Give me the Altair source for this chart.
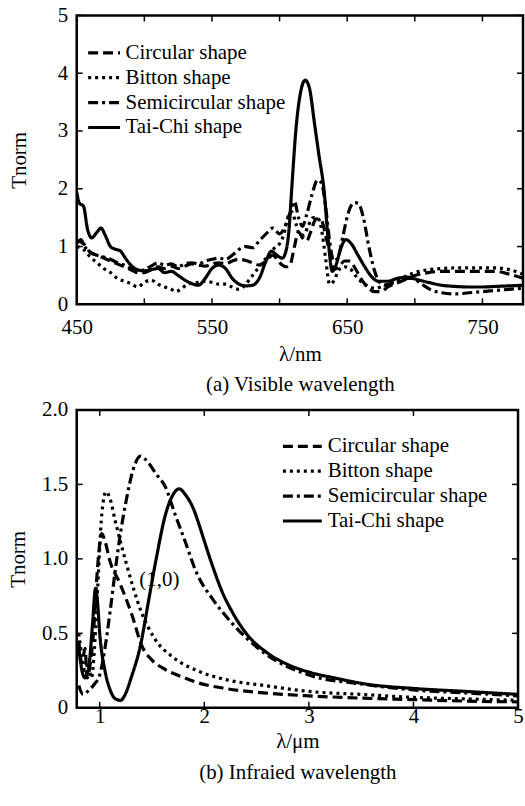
import altair as alt
import pandas as pd

FONT = "Liberation Serif"
FS = 21
SHAPES = ["Circular shape", "Bitton shape", "Semicircular shape", "Tai-Chi shape"]
DASHES = [[10, 5], [3, 4], [10, 4, 3, 4], [1, 0]]

# ---------------- (a) visible wavelength ----------------
vis_circ_x = [450, 455, 460, 465, 470, 475, 480, 485, 490, 495, 500, 505, 510, 515, 520, 525, 530, 535, 540, 545,
              550, 555, 560, 565, 570, 575, 580, 585, 590, 595, 600, 605, 608, 611, 614, 617, 620, 623, 627, 631,
              634, 637, 640, 644, 648, 652, 656, 660, 665, 670, 675, 680, 690, 700, 710, 720, 730, 740, 750, 760,
              770, 780]
vis_circ_y = [1.1, 1.05, 0.9, 0.85, 0.8, 0.75, 0.7, 0.65, 0.6, 0.55, 0.55, 0.6, 0.65, 0.62, 0.66, 0.62, 0.66, 0.7,
              0.68, 0.66, 0.7, 0.72, 0.7, 0.75, 0.78, 0.76, 0.72, 0.68, 0.75, 0.85, 0.72, 0.65, 0.7, 1.0, 1.25, 1.15,
              1.1, 1.25, 1.48, 1.45, 1.2, 0.9, 0.6, 0.65, 0.75, 0.75, 0.62, 0.45, 0.3, 0.22, 0.22, 0.3, 0.4, 0.5,
              0.55, 0.57, 0.57, 0.57, 0.57, 0.57, 0.52, 0.45]

vis_bit_x = [450, 455, 460, 465, 470, 475, 480, 485, 490, 495, 500, 505, 510, 515, 520, 523, 527, 532, 540, 545,
             550, 555, 560, 565, 570, 575, 580, 585, 590, 595, 600, 603, 606, 609, 612, 615, 618, 621, 625, 628,
             631, 634, 637, 640, 644, 648, 652, 656, 660, 665, 670, 675, 680, 690, 700, 710, 720, 730, 740, 750,
             760, 770, 780]
vis_bit_y = [1.0, 0.95, 0.82, 0.72, 0.62, 0.55, 0.45, 0.4, 0.36, 0.3, 0.38, 0.42, 0.35, 0.3, 0.26, 0.22, 0.26,
             0.35, 0.38, 0.4, 0.38, 0.35, 0.35, 0.3, 0.26, 0.35, 0.5, 0.65, 0.8, 0.95, 1.05, 1.2, 1.5, 1.6, 1.4,
             1.2, 1.2, 1.35, 1.5, 1.5, 1.3, 0.8, 0.35, 0.4, 0.6, 0.65, 0.62, 0.5, 0.4, 0.32, 0.28, 0.3, 0.35, 0.45,
             0.55, 0.6, 0.62, 0.63, 0.63, 0.63, 0.63, 0.6, 0.52]

vis_semi_x = [450, 453, 456, 460, 465, 470, 475, 480, 485, 490, 495, 500, 505, 510, 515, 520, 525, 530, 535, 540,
              545, 550, 555, 560, 565, 570, 575, 580, 585, 590, 595, 600, 604, 608, 611, 614, 617, 620, 624, 628,
              631, 634, 637, 640, 643, 647, 651, 655, 658, 662, 666, 670, 674, 678, 685, 692, 698, 705, 712, 720,
              730, 740, 750, 760, 770, 780]
vis_semi_y = [1.05, 1.12, 1.0, 0.9, 0.85, 0.82, 0.78, 0.72, 0.68, 0.62, 0.58, 0.6, 0.66, 0.72, 0.68, 0.7, 0.65,
              0.7, 0.72, 0.7, 0.75, 0.78, 0.8, 0.78, 0.85, 0.95, 1.0, 0.98, 1.1, 1.22, 1.32, 1.22, 1.35, 1.6, 1.78,
              1.5, 1.35, 1.55, 1.9, 2.15, 2.1, 1.7, 1.1, 0.75, 0.8, 1.2, 1.6, 1.76, 1.75, 1.5, 1.0, 0.6, 0.38, 0.33,
              0.38, 0.45, 0.45, 0.35, 0.25, 0.2, 0.18, 0.2, 0.22, 0.24, 0.26, 0.28]

vis_tai_x = [450, 452, 455, 458, 461, 465, 468, 471, 475, 479, 482, 486, 490, 495, 500, 505, 510, 515, 520, 525,
             530, 535, 540, 545, 550, 555, 560, 565, 570, 575, 580, 585, 590, 594, 598, 602, 605, 607, 609, 612,
             615, 619, 622, 626, 629, 633, 636, 639, 642, 645, 649, 653, 658, 663, 668, 673, 680, 687, 695, 700,
             710, 720, 730, 740, 750, 760, 770, 780]
vis_tai_y = [1.95, 1.75, 1.7, 1.3, 1.15, 1.25, 1.32, 1.2, 1.0, 0.95, 0.93, 0.8, 0.68, 0.6, 0.58, 0.6, 0.62, 0.55,
             0.57, 0.5, 0.42, 0.36, 0.33, 0.45, 0.62, 0.68, 0.62, 0.45, 0.35, 0.32, 0.33, 0.45, 0.75, 0.92, 0.85,
             0.8, 0.95, 1.3, 2.0, 3.0, 3.6, 3.88, 3.75, 3.1, 2.6, 1.95, 1.1, 0.57, 0.7, 0.95, 1.12, 1.05, 0.85,
             0.65, 0.48, 0.4, 0.4, 0.45, 0.47, 0.44, 0.38, 0.33, 0.31, 0.3, 0.3, 0.31, 0.32, 0.33]

vis_x_labels = [450, 550, 650, 750]
vis_x_ticks = [450, 500, 550, 600, 650, 700, 750]
vis_y_ticks = [0, 1, 2, 3, 4, 5]

# ---------------- (b) infrared wavelength ----------------
ir_circ_x = [0.8, 0.83, 0.86, 0.88, 0.91, 0.94, 0.97, 1.0, 1.02, 1.05, 1.1, 1.19, 1.31, 1.4, 1.5, 1.62, 1.78,
             1.93, 2.2, 2.57, 3.0, 3.5, 4.0, 4.5, 5.0]
ir_circ_y = [0.45, 0.3, 0.4, 0.2, 0.3, 0.5, 0.85, 1.1, 1.17, 1.12, 0.98, 0.84, 0.62, 0.42, 0.32, 0.26, 0.21,
             0.17, 0.13, 0.1, 0.08, 0.065, 0.055, 0.045, 0.04]

ir_bit_x = [0.8, 0.83, 0.86, 0.89, 0.92, 0.95, 0.98, 1.02, 1.06, 1.1, 1.15, 1.25, 1.4, 1.53, 1.7, 1.93, 2.2,
            2.57, 3.0, 3.5, 4.0, 4.5, 5.0]
ir_bit_y = [0.5, 0.35, 0.25, 0.3, 0.2, 0.4, 0.8, 1.3, 1.45, 1.4, 1.25, 0.98, 0.64, 0.46, 0.34, 0.25, 0.19,
            0.15, 0.11, 0.09, 0.07, 0.06, 0.05]

ir_semi_x = [0.8, 0.84, 0.9, 0.95, 1.0, 1.05, 1.1, 1.15, 1.2, 1.25, 1.32, 1.39, 1.46, 1.54, 1.63, 1.72, 1.81,
             1.93, 2.08, 2.25, 2.57, 3.0, 3.5, 4.0, 4.5, 5.0]
ir_semi_y = [0.15, 0.09, 0.12, 0.16, 0.22, 0.4, 0.65, 0.93, 1.18, 1.38, 1.6, 1.69, 1.65, 1.57, 1.48, 1.3, 1.13,
             0.9, 0.73, 0.58, 0.37, 0.22, 0.16, 0.12, 0.1, 0.08]

ir_tai_x = [0.8, 0.83, 0.86, 0.9, 0.93, 0.96, 0.98, 1.0, 1.05, 1.1, 1.15, 1.2, 1.25, 1.3, 1.39, 1.47, 1.54, 1.63,
            1.7, 1.76, 1.82, 1.9, 1.95, 2.0, 2.08, 2.17, 2.27, 2.4, 2.6, 2.8, 3.0, 3.25, 3.54, 4.0, 4.5, 5.0]
ir_tai_y = [0.4, 0.25, 0.2, 0.3, 0.55, 0.8, 0.7, 0.5, 0.25, 0.12, 0.06, 0.05, 0.1, 0.2, 0.42, 0.73, 1.0, 1.3,
            1.43, 1.47, 1.43, 1.33, 1.23, 1.12, 0.95, 0.78, 0.64, 0.5, 0.37, 0.29, 0.24, 0.2, 0.16, 0.13, 0.11,
            0.09]

ir_x_labels = [1, 2, 3, 4, 5]
ir_y_ticks = [0, 0.5, 1.0, 1.5, 2.0]
ir_note = ["(1,0)"]
ir_note_x = [1.57]
ir_note_y = [0.86]


def long_df(series):
    rows = []
    for name, xs, ys in series:
        for i, (x, y) in enumerate(zip(xs, ys)):
            rows.append({"shape": name, "x": x, "y": y, "order": i})
    return pd.DataFrame(rows)


vis_df = long_df([(SHAPES[0], vis_circ_x, vis_circ_y), (SHAPES[1], vis_bit_x, vis_bit_y),
                  (SHAPES[2], vis_semi_x, vis_semi_y), (SHAPES[3], vis_tai_x, vis_tai_y)])
ir_df = long_df([(SHAPES[0], ir_circ_x, ir_circ_y), (SHAPES[1], ir_bit_x, ir_bit_y),
                 (SHAPES[2], ir_semi_x, ir_semi_y), (SHAPES[3], ir_tai_x, ir_tai_y)])


def panel(df, W, H, xdom, ydom, xlabels, xticks, yticks, xtitle, ylabel_expr, legend_x, legend_y,
          sym_half, label_off, label_pad_x, title_pad_x, title_pad_y, title_lh, note=None):
    xs = alt.Scale(domain=xdom, nice=False, zero=False)
    ys = alt.Scale(domain=ydom, nice=False, zero=False)
    sym_path = "M-%.2f,0H%.2f" % (sym_half, sym_half)
    lines = alt.Chart(df).mark_line(color="black", strokeWidth=3.2, clip=True, interpolate="monotone").encode(
        x=alt.X("x:Q", scale=xs, axis=alt.Axis(values=xlabels, ticks=False, domain=False, grid=False,
                                                 format="d", labelFont=FONT, labelFontSize=FS,
                                                 labelPadding=label_pad_x, title=xtitle, titlePadding=title_pad_x,
                                                 titleLineHeight=title_lh, labelFlush=False)),
        y=alt.Y("y:Q", scale=ys, axis=alt.Axis(values=yticks, ticks=False, domain=False, grid=False,
                                                 labelFont=FONT, labelFontSize=FS,
                                                 labelPadding=9, title="Tnorm", titlePadding=title_pad_y,
                                                 labelExpr=ylabel_expr)),
        strokeDash=alt.StrokeDash("shape:N", scale=alt.Scale(domain=SHAPES, range=DASHES),
                                  legend=alt.Legend(title=None, orient="none", legendX=legend_x, legendY=legend_y,
                                                    symbolType=sym_path, symbolStrokeWidth=3.2,
                                                    symbolSize=100, symbolStrokeColor="black",
                                                    symbolFillColor="transparent", labelLimit=0,
                                                    labelFont=FONT, labelFontSize=FS, labelColor="black",
                                                    rowPadding=3, labelOffset=label_off)),
        order="order:Q",
    )
    xt = pd.DataFrame({"v": xticks})
    yt = pd.DataFrame({"v": yticks})
    tb = alt.Chart(xt).mark_rule(color="black", strokeWidth=1.5).encode(
        x=alt.X("v:Q", scale=xs), y=alt.value(H), y2=alt.value(H - 6))
    tt = alt.Chart(xt).mark_rule(color="black", strokeWidth=1.5).encode(
        x=alt.X("v:Q", scale=xs), y=alt.value(0), y2=alt.value(6))
    tl = alt.Chart(yt).mark_rule(color="black", strokeWidth=1.5).encode(
        y=alt.Y("v:Q", scale=ys), x=alt.value(0), x2=alt.value(6))
    tr = alt.Chart(yt).mark_rule(color="black", strokeWidth=1.5).encode(
        y=alt.Y("v:Q", scale=ys), x=alt.value(W), x2=alt.value(W - 6))
    layers = [lines, tb, tt, tl, tr]
    if note is not None:
        ndf = pd.DataFrame({"t": note[0], "x": note[1], "y": note[2]})
        layers.append(alt.Chart(ndf).mark_text(font=FONT, fontSize=FS, color="black").encode(
            x=alt.X("x:Q", scale=xs), y=alt.Y("y:Q", scale=ys), text="t:N"))
    return alt.layer(*layers).properties(width=W, height=H)


top = panel(vis_df, 448, 290, [450, 780], [0, 5], vis_x_labels, vis_x_ticks, vis_y_ticks,
            ["λ/nm", "(a) Visible wavelength"], "format(datum.value, 'd')", 17, 27, 3.2, 11, 12, 6, 28, 31)
bottom = panel(ir_df, 443, 299, [0.78, 5], [0, 2], ir_x_labels, ir_x_labels[:-1], ir_y_ticks,
               ["λ/μm", "(b) Infraied wavelength"], "datum.value == 0 ? '0' : format(datum.value, '.1f')",
               216, 26, 3.9, 15, -2, 4, 13, 31, note=(ir_note, ir_note_x, ir_note_y))

chart = alt.vconcat(top, bottom, spacing=0).resolve_legend(strokeDash="independent").resolve_scale(
    strokeDash="independent").properties(
    padding={"left": 6, "top": 1, "right": 0, "bottom": 0}, background="white"
).configure(font=FONT).configure_view(stroke="black", strokeWidth=2.5).configure_axis(
    labelFont=FONT, labelFontSize=FS, labelColor="black", titleFont=FONT, titleFontSize=FS,
    titleFontWeight="normal", titleColor="black"
)

chart.save("out.html", embed_options={"renderer": "svg", "actions": False})
